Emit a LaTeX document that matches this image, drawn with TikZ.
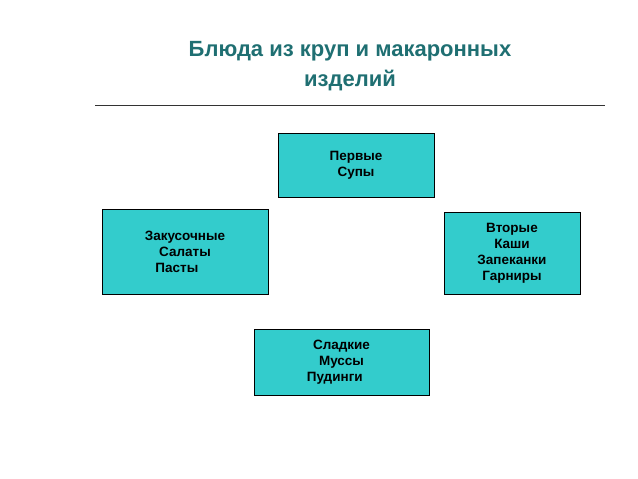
\documentclass[tikz,border=0pt]{standalone}
\usepackage{fontspec}
\setmainfont{Liberation Sans}
\definecolor{tealt}{HTML}{1F6F72}
\definecolor{boxc}{HTML}{33CCCC}
\begin{document}
\begin{tikzpicture}[x=1pt,y=-1pt,
  bx/.style={draw=black,fill=boxc,line width=0.8pt,font=\bfseries\fontsize{13.5}{16}\selectfont,align=center,inner sep=0pt},
  ttl/.style={text=tealt,font=\bfseries\fontsize{22}{30}\selectfont,align=center}]
\useasboundingbox (0,0) rectangle (638,479);
\node[ttl] (t) at (350,66) {Блюда из круп и макаронных\\изделий};
\coordinate (l1) at (95,105); \coordinate (l2) at (605,105);
\draw[line width=0.8pt,black!80] (l1) -- (l2);
\node[bx,minimum width=156pt,minimum height=64pt] (a) at (356,165) {Первые\\Супы};
\node[bx,minimum width=166pt,minimum height=85pt] (b) at (185,251.5) {Закусочные\\Салаты\\Пасты\hspace*{1.2em}};
\node[bx,minimum width=136pt,minimum height=82pt] (c) at (512,253) {Вторые\\Каши\\Запеканки\\Гарниры};
\node[bx,minimum width=175pt,minimum height=66pt] (d) at (341.5,362) {Сладкие\\Муссы\\Пудинги\hspace*{1em}};
\end{tikzpicture}
\end{document}
